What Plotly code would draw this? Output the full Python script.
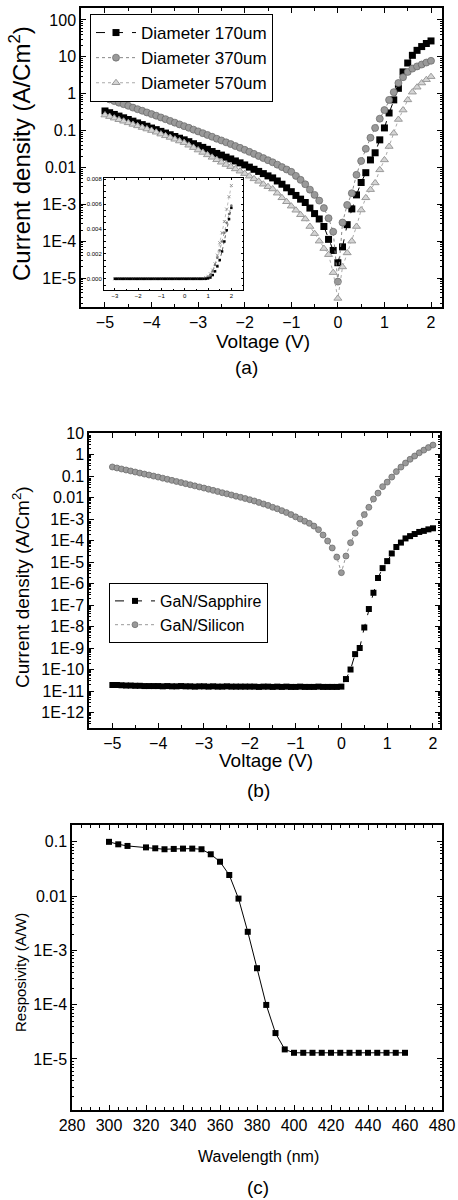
import plotly.graph_objects as go

# ---------------- data ----------------
V = [-5.0, -4.9, -4.8, -4.7, -4.6, -4.5, -4.4, -4.3, -4.2, -4.1,
     -4.0, -3.9, -3.8, -3.7, -3.6, -3.5, -3.4, -3.3, -3.2, -3.1,
     -3.0, -2.9, -2.8, -2.7, -2.6, -2.5, -2.4, -2.3, -2.2, -2.1,
     -2.0, -1.9, -1.8, -1.7, -1.6, -1.5, -1.4, -1.3, -1.2, -1.1,
     -1.0, -0.9, -0.8, -0.7, -0.6, -0.5, -0.4, -0.3, -0.2, -0.1,
     0.0,
     0.1, 0.2, 0.3, 0.4, 0.5, 0.6, 0.7, 0.8, 0.9, 1.0,
     1.1, 1.2, 1.3, 1.4, 1.5, 1.6, 1.7, 1.8, 1.9, 2.0]

J170 = [0.34, 0.305, 0.274, 0.247, 0.222, 0.20, 0.18, 0.161, 0.145, 0.131,
        0.117, 0.106, 0.095, 0.0855, 0.077, 0.069, 0.062, 0.056, 0.050, 0.044,
        0.039, 0.035, 0.031, 0.027, 0.024, 0.0216, 0.019, 0.017, 0.015, 0.0133,
        0.0117, 0.0102, 0.0089, 0.0078, 0.0068, 0.0059, 0.0052, 0.0043, 0.0035, 0.0028,
        0.0022, 0.00174, 0.00138, 0.00112, 0.00079, 0.00056, 0.0004, 0.00025, 0.000112, 0.000056,
        0.000026,
        7e-5, 2.8e-4, 7.5e-4, 1.8e-3, 3.9e-3, 7.2e-3, 0.016, 0.025, 0.056, 0.118,
        0.3, 0.68, 1.4, 3.9, 6.8, 11, 15, 19, 23, 27]

J370 = [0.78, 0.70, 0.63, 0.57, 0.52, 0.47, 0.42, 0.38, 0.345, 0.31,
        0.28, 0.253, 0.227, 0.204, 0.183, 0.164, 0.147, 0.132, 0.119, 0.106,
        0.095, 0.085, 0.076, 0.068, 0.060, 0.054, 0.048, 0.043, 0.038, 0.034,
        0.030, 0.0265, 0.0233, 0.0204, 0.0179, 0.0157, 0.0138, 0.0119, 0.0102, 0.0088,
        0.0076, 0.0059, 0.0046, 0.0035, 0.0025, 0.0018, 0.00126, 0.00079, 0.00042, 0.00018,
        8e-6,
        3.2e-4, 9.6e-4, 2e-3, 6.3e-3, 0.015, 0.032, 0.064, 0.118, 0.21, 0.36,
        0.68, 1.1, 1.95, 2.8, 3.9, 4.8, 5.5, 6.2, 7.0, 7.8]

J570 = [0.263, 0.239, 0.217, 0.197, 0.179, 0.162, 0.147, 0.134, 0.121, 0.110,
        0.100, 0.090, 0.080, 0.072, 0.065, 0.058, 0.052, 0.047, 0.040, 0.0345,
        0.0296, 0.0255, 0.0219, 0.0188, 0.0161, 0.0138, 0.0120, 0.0105, 0.0091, 0.0079,
        0.0068, 0.0058, 0.0049, 0.0042, 0.0035, 0.0030, 0.0026, 0.0020, 0.0015, 0.00117,
        0.00089, 0.00069, 0.00052, 0.0004, 0.00025, 0.00016, 0.0001, 6.3e-5, 4.3e-5, 1.4e-5,
        2.8e-6,
        2e-5, 4.8e-5, 1e-4, 2.5e-4, 7e-4, 1.5e-3, 2.5e-3, 3.8e-3, 8.6e-3, 0.016,
        0.037, 0.085, 0.2, 0.36, 0.68, 1.1, 1.5, 1.95, 2.4, 2.9]

# inset (linear scale)
V_inset = [-3.0, -2.9, -2.8, -2.7, -2.6, -2.5, -2.4, -2.3, -2.2, -2.1,
           -2.0, -1.9, -1.8, -1.7, -1.6, -1.5, -1.4, -1.3, -1.2, -1.1,
           -1.0, -0.9, -0.8, -0.7, -0.6, -0.5, -0.4, -0.3, -0.2, -0.1,
           0.0, 0.1, 0.2, 0.3, 0.4, 0.5, 0.6, 0.7, 0.8, 0.9,
           1.0, 1.1, 1.2, 1.3, 1.4, 1.5, 1.6, 1.7, 1.8, 1.9, 2.0]
I570 = [0, 0, 0, 0, 0, 0, 0, 0, 0, 0,
        0, 0, 0, 0, 0, 0, 0, 0, 0, 0,
        0, 0, 0, 0, 0, 0, 0, 0, 0, 0,
        0, 0, 0, 0, 0, 0, 0, 0, 0, 0.0001,
        0.0002, 0.0004, 0.0007, 0.0012, 0.0019, 0.0029, 0.0037, 0.0046, 0.0056, 0.0066, 0.0075]
I370 = [0, 0, 0, 0, 0, 0, 0, 0, 0, 0,
        0, 0, 0, 0, 0, 0, 0, 0, 0, 0,
        0, 0, 0, 0, 0, 0, 0, 0, 0, 0,
        0, 0, 0, 0, 0, 0, 0, 0, 0, 0.00005,
        0.0001, 0.0003, 0.0006, 0.0011, 0.0017, 0.0023, 0.003, 0.0037, 0.0045, 0.0052, 0.0059]
I170 = [0, 0, 0, 0, 0, 0, 0, 0, 0, 0,
        0, 0, 0, 0, 0, 0, 0, 0, 0, 0,
        0, 0, 0, 0, 0, 0, 0, 0, 0, 0,
        0, 0, 0, 0, 0, 0, 0, 0, 0, 0,
        0.00003, 0.0001, 0.0003, 0.0006, 0.001, 0.0015, 0.0022, 0.003, 0.0039, 0.0048, 0.0057]

J_sapphire = [1.9e-11, 1.9e-11, 1.85e-11, 1.8e-11, 1.8e-11, 1.75e-11, 1.75e-11, 1.7e-11, 1.7e-11, 1.7e-11,
              1.7e-11, 1.65e-11, 1.7e-11, 1.65e-11, 1.65e-11, 1.7e-11, 1.65e-11, 1.65e-11, 1.6e-11, 1.65e-11,
              1.65e-11, 1.6e-11, 1.65e-11, 1.6e-11, 1.6e-11, 1.65e-11, 1.6e-11, 1.6e-11, 1.6e-11, 1.6e-11,
              1.6e-11, 1.6e-11, 1.55e-11, 1.6e-11, 1.6e-11, 1.55e-11, 1.6e-11, 1.55e-11, 1.6e-11, 1.55e-11,
              1.55e-11, 1.6e-11, 1.55e-11, 1.55e-11, 1.55e-11, 1.6e-11, 1.55e-11, 1.55e-11, 1.55e-11, 1.55e-11,
              1.6e-11,
              3.6e-11, 1e-10, 5.2e-10, 1e-9, 9e-9, 6.5e-8, 3.7e-7, 1.8e-6, 5.2e-6, 1.1e-5,
              2.5e-5, 5e-5, 8e-5, 1.25e-4, 1.6e-4, 2e-4, 2.5e-4, 2.8e-4, 3.3e-4, 3.7e-4]

J_silicon = [0.263, 0.236, 0.212, 0.190, 0.171, 0.153, 0.137, 0.123, 0.111, 0.0993,
             0.0891, 0.0793, 0.0705, 0.0627, 0.0557, 0.0495, 0.0441, 0.0392, 0.0348, 0.031,
             0.0275, 0.0243, 0.0215, 0.019, 0.0167, 0.0148, 0.0131, 0.0115, 0.0102, 0.009,
             0.0079, 0.0069, 0.0059, 0.0050, 0.0043, 0.0035, 0.0030, 0.00245, 0.002, 0.0016,
             0.00126, 0.001, 0.00079, 0.00063, 0.00047, 0.00032, 0.00018, 9.5e-5, 4.5e-5, 1.7e-5,
             3.2e-6,
             1.9e-5, 7.9e-5, 2.2e-4, 6.3e-4, 1.6e-3, 3.5e-3, 8.5e-3, 0.016, 0.032, 0.052,
             0.089, 0.16, 0.26, 0.4, 0.6, 0.85, 1.2, 1.6, 2.1, 2.75]

wavelength = [300, 305, 310, 320, 325, 330, 335, 340, 345, 350,
              355, 360, 365, 370, 375, 380, 385, 390, 395, 400,
              405, 410, 415, 420, 425, 430, 435, 440, 445, 450, 455, 460]
responsivity = [0.100, 0.090, 0.084, 0.079, 0.076, 0.073, 0.074, 0.075, 0.075, 0.073,
                0.059, 0.043, 0.0245, 0.0090, 0.0022, 4.7e-4, 9.9e-5, 3.0e-5, 1.5e-5, 1.3e-5,
                1.3e-5, 1.3e-5, 1.3e-5, 1.3e-5, 1.3e-5, 1.3e-5, 1.3e-5, 1.3e-5, 1.3e-5, 1.3e-5, 1.3e-5, 1.3e-5]

ticks_a_vals = [100, 10, 1, 0.1, 0.01, 1e-3, 1e-4, 1e-5]
ticks_a_text = ["100", "10", "1", "0.1", "0.01", "1E-3", "1E-4", "1E-5"]
ticks_b_vals = [10, 1, 0.1, 0.01, 1e-3, 1e-4, 1e-5, 1e-6, 1e-7, 1e-8, 1e-9, 1e-10, 1e-11, 1e-12]
ticks_b_text = ["10", "1", "0.1", "0.01", "1E-3", "1E-4", "1E-5", "1E-6", "1E-7", "1E-8",
                "1E-9", "1E-10", "1E-11", "1E-12"]
ticks_c_vals = [0.1, 0.01, 1e-3, 1e-4, 1e-5]
ticks_c_text = ["0.1", "0.01", "1E-3", "1E-4", "1E-5"]

# ---------------- figure ----------------
W, H = 458, 1200
FONT = "Liberation Sans, Arial, sans-serif"


def px_x(a, b):
    return [a / W, b / W]


def px_y(top, bottom):
    return [1 - bottom / H, 1 - top / H]


def axis(size=16, **kw):
    d = dict(showline=True, linecolor="black", linewidth=1.5, mirror="ticks",
             ticks="inside", ticklen=5, tickwidth=1.2, tickcolor="black",
             showgrid=False, zeroline=False, automargin=False,
             tickfont=dict(family=FONT, size=size, color="black"))
    d.update(kw)
    return d


minor_log = dict(ticks="inside", ticklen=2.5, tickcolor="black", dtick="D1", showgrid=False)

fig = go.Figure()

# (a)
fig.add_trace(go.Scatter(x=V, y=J170, name="Diameter 170um", mode="lines+markers",
                         line=dict(color="black", width=1, dash="dash"),
                         marker=dict(symbol="square", size=7, color="black"),
                         xaxis="x", yaxis="y", legend="legend"))
fig.add_trace(go.Scatter(x=V, y=J370, name="Diameter 370um", mode="lines+markers",
                         line=dict(color="#888888", width=1, dash="dot"),
                         marker=dict(symbol="circle", size=7, color="#999999",
                                     line=dict(color="#666666", width=0.7)),
                         xaxis="x", yaxis="y", legend="legend"))
fig.add_trace(go.Scatter(x=V, y=J570, name="Diameter 570um", mode="lines+markers",
                         line=dict(color="#aaaaaa", width=1, dash="dot"),
                         marker=dict(symbol="triangle-up", size=7, color="#d4d4d4",
                                     line=dict(color="#9a9a9a", width=1)),
                         xaxis="x", yaxis="y", legend="legend"))

# inset
fig.add_trace(go.Scatter(x=V_inset, y=I570, mode="lines+markers", showlegend=False,
                         line=dict(color="#aaaaaa", width=0.8, dash="dot"),
                         marker=dict(symbol="x-thin-open", size=3, color="#888888", line=dict(width=0.8)),
                         xaxis="x4", yaxis="y4"))
fig.add_trace(go.Scatter(x=V_inset, y=I370, mode="lines+markers", showlegend=False,
                         line=dict(color="#888888", width=0.8, dash="dot"),
                         marker=dict(symbol="circle", size=2.5, color="#777777"),
                         xaxis="x4", yaxis="y4"))
fig.add_trace(go.Scatter(x=V_inset, y=I170, mode="lines+markers", showlegend=False,
                         line=dict(color="#333333", width=0.8, dash="dot"),
                         marker=dict(symbol="square", size=2.5, color="black"),
                         xaxis="x4", yaxis="y4"))

# (b)
fig.add_trace(go.Scatter(x=V, y=J_sapphire, name="GaN/Sapphire", mode="lines+markers",
                         line=dict(color="black", width=1, dash="dash"),
                         marker=dict(symbol="square", size=6, color="black"),
                         xaxis="x2", yaxis="y2", legend="legend2"))
fig.add_trace(go.Scatter(x=V, y=J_silicon, name="GaN/Silicon", mode="lines+markers",
                         line=dict(color="#999999", width=1, dash="dot"),
                         marker=dict(symbol="circle", size=6, color="#999999",
                                     line=dict(color="#666666", width=0.7)),
                         xaxis="x2", yaxis="y2", legend="legend2"))

# (c)
fig.add_trace(go.Scatter(x=wavelength, y=responsivity, mode="lines+markers", showlegend=False,
                         line=dict(color="black", width=1),
                         marker=dict(symbol="square", size=6, color="black"),
                         xaxis="x3", yaxis="y3"))

fig.update_layout(
    template="none",
    width=W, height=H, autosize=False, margin=dict(l=0, r=0, t=0, b=0, pad=0),
    paper_bgcolor="white", plot_bgcolor="rgba(0,0,0,0)",
    font=dict(family=FONT, color="black"),
    xaxis=axis(domain=px_x(81, 442), range=[-5.515, 2.236], tickvals=[-5, -4, -3, -2, -1, 0, 1, 2],
               minor=dict(ticks="inside", ticklen=3, dtick=0.5, tickcolor="black"), anchor="y"),
    yaxis=axis(domain=px_y(8, 307), type="log", range=[-5.786, 2.325],
               tickvals=ticks_a_vals, ticktext=ticks_a_text, minor=minor_log, anchor="x"),
    xaxis2=axis(domain=px_x(89, 440), range=[-5.51, 2.153], tickvals=[-5, -4, -3, -2, -1, 0, 1, 2],
                minor=dict(ticks="inside", ticklen=3, dtick=0.5, tickcolor="black"), anchor="y2"),
    yaxis2=axis(domain=px_y(433, 728), type="log", range=[-12.72, 1.0],
                tickvals=ticks_b_vals, ticktext=ticks_b_text, minor=minor_log, anchor="x2"),
    xaxis3=axis(domain=px_x(72, 442), range=[280, 480], dtick=20, tick0=280,
                minor=dict(ticks="inside", ticklen=3, dtick=5, tickcolor="black"), anchor="y3"),
    yaxis3=axis(domain=px_y(825, 1110), type="log", range=[-5.94, -0.69],
                tickvals=ticks_c_vals, ticktext=ticks_c_text, minor=minor_log, anchor="x3"),
    xaxis4=axis(size=6, domain=px_x(104, 243), range=[-3.47, 2.5], tickvals=[-3, -2, -1, 0, 1, 2],
                linewidth=1, ticklen=2, tickwidth=0.8, anchor="y4",
                minor=dict(ticks="inside", ticklen=1.5, dtick=0.5, tickcolor="black")),
    yaxis4=axis(size=6, domain=px_y(178, 290), range=[-0.0009, 0.0081],
                tickvals=[0, 0.002, 0.004, 0.006, 0.008], tickformat=".3f",
                linewidth=1, ticklen=2, tickwidth=0.8, anchor="x4",
                minor=dict(ticks="inside", ticklen=1.5, dtick=0.0005, tickcolor="black")),
    legend=dict(x=90 / W, y=1 - 14 / H, xanchor="left", yanchor="top",
                bordercolor="black", borderwidth=1, bgcolor="white",
                font=dict(family=FONT, size=17, color="black"), itemwidth=40,
                tracegroupgap=0),
    legend2=dict(x=109 / W, y=1 - 583 / H, xanchor="left", yanchor="top",
                 bordercolor="black", borderwidth=1, bgcolor="white",
                 font=dict(family=FONT, size=16, color="black"), itemwidth=40,
                 tracegroupgap=0),
)


def label(text, xp, yp, size, angle=0):
    fig.add_annotation(text=text, x=xp / W, y=1 - yp / H, xref="paper", yref="paper",
                       showarrow=False, xanchor="center", yanchor="middle",
                       textangle=angle, font=dict(family=FONT, size=size, color="black"))


label("Current density (A/Cm<sup>2</sup>)", 20, 154, 24, -90)
label("Voltage (V)", 263, 341, 19)
label("(a)", 246, 367, 19)
label("Current density (A/Cm<sup>2</sup>)", 21, 587, 19, -90)
label("Voltage (V)", 266, 760, 19)
label("(b)", 258, 790, 19)
label("Resposivity (A/W)", 20, 973, 15, -90)
label("Wavelength (nm)", 258, 1156, 16)
label("(c)", 258, 1187, 19)

fig.write_html(
    "out.html",
    config={"responsive": False, "displayModeBar": False},
    post_script="document.body.style.margin='0';document.body.style.padding='0';"
                "document.body.style.overflow='hidden';",
)
